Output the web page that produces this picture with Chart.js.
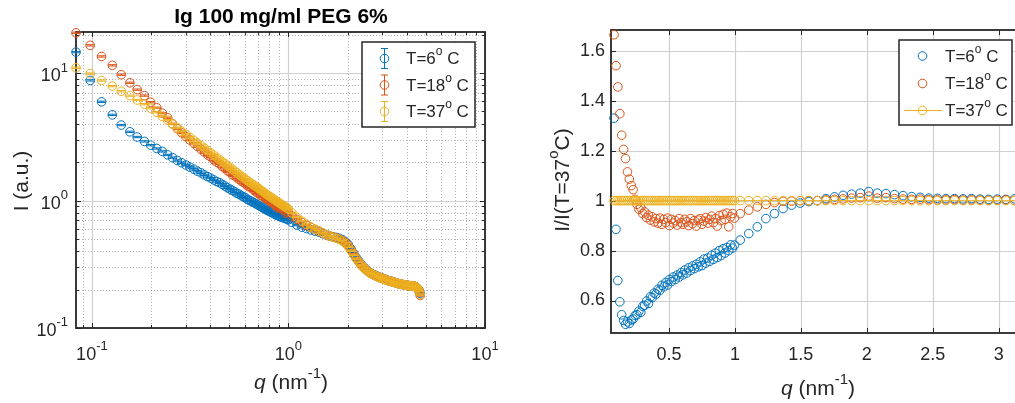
<!DOCTYPE html>
<html>
<head>
<meta charset="utf-8">
<script src="https://cdn.jsdelivr.net/npm/chart.js@4.4.1/dist/chart.umd.min.js"></script>
<style>
  html, body { margin: 0; padding: 0; background: #fff; overflow: hidden; }
  #wrap { position: relative; width: 1015px; height: 403px; overflow: hidden; background: #fff; }
  #left { position: absolute; left: 0; top: 0; }
  #right { position: absolute; left: 510px; top: 0; }
</style>
</head>
<body>
<div id="wrap">
  <canvas id="left" width="510" height="403"></canvas>
  <canvas id="right" width="540" height="403"></canvas>
</div>
<script>
// q (nm^-1): fine steps below 1, coarse steps above
const q = [
  0.083, 0.098, 0.112, 0.127, 0.141, 0.156, 0.170, 0.185, 0.199, 0.214,
  0.228, 0.243, 0.257, 0.272, 0.286, 0.301, 0.315, 0.330, 0.344, 0.359,
  0.373, 0.388, 0.402, 0.417, 0.431, 0.446, 0.460, 0.475, 0.489, 0.504,
  0.518, 0.533, 0.547, 0.562, 0.576, 0.591, 0.605, 0.620, 0.634, 0.649,
  0.663, 0.678, 0.692, 0.707, 0.721, 0.736, 0.750, 0.765, 0.779, 0.794,
  0.808, 0.823, 0.837, 0.852, 0.866, 0.881, 0.895, 0.910, 0.924, 0.939,
  0.953, 0.968, 0.982, 0.997,
  1.040, 1.105, 1.170, 1.235, 1.300, 1.365, 1.430, 1.495, 1.560, 1.625,
  1.690, 1.755, 1.820, 1.885, 1.950, 2.015, 2.080, 2.145, 2.210, 2.275,
  2.340, 2.405, 2.470, 2.535, 2.600, 2.665, 2.730, 2.795, 2.860, 2.925,
  2.990, 3.055, 3.120, 3.185, 3.250, 3.315, 3.380, 3.445, 3.510, 3.575,
  3.640, 3.705, 3.770, 3.835, 3.900, 3.965, 4.030, 4.095, 4.160, 4.225,
  4.290, 4.355, 4.420, 4.485, 4.550, 4.615, 4.680
];

// intensity (a.u.) at 6, 18 and 37 C
const I6 = [
  14.6, 8.76, 5.95, 4.70, 3.91, 3.46, 3.15, 2.91, 2.72, 2.56,
  2.43, 2.28, 2.17, 2.06, 1.98, 1.90, 1.83, 1.76, 1.70, 1.65,
  1.59, 1.54, 1.50, 1.45, 1.41, 1.38, 1.34, 1.30, 1.26, 1.23,
  1.20, 1.17, 1.14, 1.12, 1.09, 1.07, 1.05, 1.02, 1.00, 0.985,
  0.967, 0.949, 0.931, 0.914, 0.897, 0.883, 0.868, 0.852, 0.838, 0.826,
  0.815, 0.804, 0.793, 0.782, 0.770, 0.763, 0.756, 0.749, 0.742, 0.735,
  0.727, 0.723, 0.714, 0.705,
  0.674, 0.642, 0.618, 0.603, 0.588, 0.576, 0.565, 0.549, 0.538, 0.525,
  0.519, 0.513, 0.505, 0.492, 0.474, 0.451, 0.417, 0.386, 0.358, 0.337,
  0.317, 0.302, 0.290, 0.281, 0.272, 0.266, 0.261, 0.257, 0.253, 0.249,
  0.246, 0.243, 0.241, 0.237, 0.235, 0.233, 0.231, 0.228, 0.227, 0.224,
  0.222, 0.221, 0.220, 0.219, 0.218, 0.217, 0.216, 0.215, 0.214, 0.214,
  0.213, 0.213, 0.211, 0.208, 0.204, 0.198, 0.187
];
const I18 = [
  20.7, 16.5, 13.5, 11.5, 9.71, 8.39, 7.41, 6.66, 5.91, 5.34,
  4.85, 4.46, 4.00, 3.66, 3.40, 3.17, 2.99, 2.81, 2.66, 2.52,
  2.40, 2.28, 2.20, 2.09, 2.00, 1.94, 1.85, 1.79, 1.71, 1.67,
  1.59, 1.56, 1.51, 1.46, 1.42, 1.39, 1.35, 1.30, 1.28, 1.26,
  1.21, 1.19, 1.15, 1.14, 1.10, 1.08, 1.07, 1.035, 1.02, 1.01,
  0.979, 0.966, 0.956, 0.921, 0.909, 0.876, 0.893, 0.871, 0.870, 0.849,
  0.851, 0.797, 0.814, 0.808,
  0.758, 0.712, 0.673, 0.640, 0.615, 0.593, 0.574, 0.555, 0.540, 0.525,
  0.517, 0.508, 0.498, 0.485, 0.466, 0.443, 0.409, 0.380, 0.353, 0.332,
  0.314, 0.300, 0.288, 0.279, 0.271, 0.265, 0.260, 0.255, 0.252, 0.248,
  0.246, 0.242, 0.240, 0.236, 0.235, 0.232, 0.231, 0.228, 0.227, 0.224,
  0.223, 0.221, 0.220, 0.219, 0.218, 0.217, 0.216, 0.215, 0.215, 0.214,
  0.213, 0.213, 0.211, 0.207, 0.203, 0.194, 0.180
];
const I37 = [
  11.0, 9.9, 8.75, 7.9, 7.2, 6.65, 6.15, 5.7, 5.3, 4.92,
  4.58, 4.27, 3.98, 3.72, 3.50, 3.30, 3.13, 2.97, 2.83, 2.70,
  2.58, 2.47, 2.37, 2.27, 2.18, 2.10, 2.02, 1.95, 1.88, 1.82,
  1.76, 1.70, 1.65, 1.60, 1.55, 1.51, 1.47, 1.43, 1.39, 1.36,
  1.33, 1.30, 1.27, 1.24, 1.21, 1.185, 1.16, 1.135, 1.11, 1.09,
  1.07, 1.05, 1.03, 1.01, 0.99, 0.975, 0.96, 0.945, 0.93, 0.915,
  0.90, 0.89, 0.875, 0.86,
  0.80, 0.74, 0.69, 0.65, 0.62, 0.595, 0.575, 0.555, 0.540, 0.525,
  0.515, 0.505, 0.495, 0.480, 0.460, 0.435, 0.405, 0.375, 0.350, 0.330,
  0.312, 0.298, 0.287, 0.278, 0.270, 0.264, 0.259, 0.255, 0.251, 0.248,
  0.245, 0.242, 0.239, 0.236, 0.234, 0.232, 0.230, 0.228, 0.226, 0.224,
  0.222, 0.221, 0.220, 0.219, 0.218, 0.217, 0.216, 0.215, 0.214, 0.214,
  0.213, 0.213, 0.211, 0.208, 0.204, 0.196, 0.183
];

// I / I(T=37 C)
const r6 = [
  1.33, 0.885, 0.68, 0.595, 0.543, 0.52, 0.505, 0.515, 0.508, 0.522,
  0.526, 0.54, 0.543, 0.558, 0.553, 0.577, 0.581, 0.598, 0.588, 0.615,
  0.612, 0.63, 0.626, 0.645, 0.641, 0.661, 0.655, 0.672, 0.662, 0.684,
  0.676, 0.694, 0.684, 0.702, 0.694, 0.712, 0.703, 0.722, 0.71, 0.731,
  0.72, 0.738, 0.728, 0.745, 0.735, 0.755, 0.74, 0.766, 0.75, 0.77,
  0.757, 0.781, 0.765, 0.79, 0.772, 0.80, 0.78, 0.807, 0.79, 0.812,
  0.80, 0.823, 0.81, 0.822,
  0.842, 0.868, 0.895, 0.928, 0.948, 0.968, 0.982, 0.99, 0.996, 1.0,
  1.008, 1.015, 1.021, 1.026, 1.03, 1.036, 1.03, 1.028, 1.024, 1.02,
  1.016, 1.013, 1.01, 1.009, 1.008, 1.008, 1.007, 1.008, 1.006, 1.005,
  1.006, 1.005, 1.007, 1.004, 1.005, 1.003, 1.004, 1.002, 1.003, 1.001,
  1.002, 1.001, 1.0, 1.002, 1.001, 1.0, 1.001, 1.0, 1.0, 1.001,
  1.0, 1.0, 0.999, 1.0, 0.998, 1.01, 1.02
];
const r18 = [
  1.664, 1.54, 1.455, 1.348, 1.262, 1.205, 1.168, 1.115, 1.086, 1.06,
  1.044, 1.005, 0.985, 0.965, 0.972, 0.948, 0.955, 0.932, 0.942, 0.922,
  0.935, 0.915, 0.928, 0.91, 0.93, 0.905, 0.925, 0.912, 0.93, 0.90,
  0.925, 0.91, 0.92, 0.902, 0.928, 0.912, 0.905, 0.925, 0.915, 0.90,
  0.928, 0.908, 0.92, 0.898, 0.922, 0.928, 0.905, 0.918, 0.932, 0.91,
  0.925, 0.938, 0.912, 0.928, 0.898, 0.94, 0.92, 0.945, 0.925, 0.95,
  0.895, 0.935, 0.948, 0.93,
  0.948, 0.962, 0.975, 0.985, 0.992, 0.997, 0.998, 1.0, 1.0, 1.0,
  1.003, 1.005, 1.007, 1.01, 1.012, 1.018, 1.01, 1.012, 1.008, 1.006,
  1.005, 1.006, 1.004, 1.003, 1.003, 1.004, 1.002, 1.003, 1.002, 1.001,
  1.002, 1.003, 1.001, 1.002, 1.0, 1.001, 1.002, 1.0, 1.001, 1.0,
  1.002, 1.001, 1.0, 1.001, 1.0, 1.0, 1.001, 1.0, 0.999, 1.0,
  1.001, 1.0, 1.0, 0.999, 0.998, 0.99, 0.985
];
const r37 = [
  1, 1, 1, 1, 1, 1, 1, 1, 1, 1,  1, 1, 1, 1, 1, 1, 1, 1, 1, 1,
  1, 1, 1, 1, 1, 1, 1, 1, 1, 1,  1, 1, 1, 1, 1, 1, 1, 1, 1, 1,
  1, 1, 1, 1, 1, 1, 1, 1, 1, 1,  1, 1, 1, 1, 1, 1, 1, 1, 1, 1,
  1, 1, 1, 1,
  1, 1, 1, 1, 1, 1, 1, 1, 1, 1,  1, 1, 1, 1, 1, 1, 1, 1, 1, 1,
  1, 1, 1, 1, 1, 1, 1, 1, 1, 1,  1, 1, 1, 1, 1, 1, 1, 1, 1, 1,
  1, 1, 1, 1, 1, 1, 1, 1, 1, 1,  1, 1, 1, 1, 1, 1, 1
];

const temps = ['6', '18', '37'];
const relErr = 0.012;

const leftXTicks = [0.1, 1, 10];
const leftYTicks = [0.1, 1, 10];
const rightXTicks = [0.5, 1, 1.5, 2, 2.5, 3];
const rightYTicks = [0.6, 0.8, 1, 1.2, 1.4, 1.6];

const colors = ['#0072BD', '#D95319', '#EDB120'];
const FONT = '"Liberation Sans", Arial, Helvetica, sans-serif';
const INK = '#262626';

function minorLog(lo, hi) {
  const out = [];
  for (let d = -2; d <= 2; d++) {
    for (let m = 2; m <= 9; m++) {
      const v = m * Math.pow(10, d);
      if (v > lo && v < hi) out.push(v);
    }
  }
  return out;
}

function fontFor(p, size) {
  const s = p.sup ? Math.round(size * 0.7) : size;
  return (p.italic ? 'italic ' : '') + (p.bold ? 'bold ' : '') + s + 'px ' + FONT;
}

function richWidth(ctx, parts, size) {
  let w = 0;
  for (const p of parts) {
    ctx.font = fontFor(p, size);
    w += ctx.measureText(p.t).width;
  }
  return w;
}

// text with superscripts / italics on one line, y is the middle of the base text
function drawRich(ctx, parts, x, y, size, align) {
  const w = richWidth(ctx, parts, size);
  let cx = align === 'center' ? x - w / 2 : align === 'right' ? x - w : x;
  ctx.textAlign = 'left';
  ctx.textBaseline = 'middle';
  for (const p of parts) {
    ctx.font = fontFor(p, size);
    ctx.fillText(p.t, cx, p.sup ? y - size * 0.45 : y);
    cx += ctx.measureText(p.t).width;
  }
}

function seg(ctx, x1, y1, x2, y2) {
  ctx.beginPath();
  ctx.moveTo(x1, y1);
  ctx.lineTo(x2, y2);
  ctx.stroke();
}

function circle(ctx, x, y, r) {
  ctx.beginPath();
  ctx.arc(x, y, r, 0, Math.PI * 2);
  ctx.stroke();
}

function errorIcon(ctx, x, y, half, cap) {
  seg(ctx, x, y - half, x, y + half);
  seg(ctx, x - cap, y - half, x + cap, y - half);
  seg(ctx, x - cap, y + half, x + cap, y + half);
}

// grid, box, inward ticks, labels and legend drawn the way MATLAB axes look
function axesDecor(cfg) {
  return {
    id: 'axesDecor',
    beforeDatasetsDraw(chart) {
      const { ctx, chartArea: a, scales: { x, y } } = chart;
      const px = v => Math.round(x.getPixelForValue(v)) + 0.5;
      const py = v => Math.round(y.getPixelForValue(v)) + 0.5;
      ctx.save();
      ctx.lineWidth = 1;
      ctx.strokeStyle = '#b4b4b4';
      ctx.setLineDash([1, 2]);
      for (const v of cfg.xMinor) seg(ctx, px(v), a.top, px(v), a.bottom);
      for (const v of cfg.yMinor) seg(ctx, a.left, py(v), a.right, py(v));
      ctx.setLineDash([]);
      ctx.strokeStyle = '#d0d0d0';
      ctx.lineWidth = 1.2;
      for (const v of cfg.xTicks) seg(ctx, px(v), a.top, px(v), a.bottom);
      for (const v of cfg.yTicks) seg(ctx, a.left, py(v), a.right, py(v));

      ctx.strokeStyle = INK;
      ctx.lineWidth = 1;
      const L = 5, l = 3;
      for (const v of cfg.xTicks) { seg(ctx, px(v), a.bottom, px(v), a.bottom - L); seg(ctx, px(v), a.top, px(v), a.top + L); }
      for (const v of cfg.yTicks) { seg(ctx, a.left, py(v), a.left + L, py(v)); seg(ctx, a.right, py(v), a.right - L, py(v)); }
      for (const v of cfg.xMinor) { seg(ctx, px(v), a.bottom, px(v), a.bottom - l); seg(ctx, px(v), a.top, px(v), a.top + l); }
      for (const v of cfg.yMinor) { seg(ctx, a.left, py(v), a.left + l, py(v)); seg(ctx, a.right, py(v), a.right - l, py(v)); }

      ctx.lineWidth = 1.8;
      ctx.strokeRect(a.left, a.top, a.right - a.left, a.bottom - a.top);
      ctx.restore();
    },
    afterDatasetDraw(chart, args) {
      if (!cfg.errorBars) return;
      const { ctx, scales: { y } } = chart;
      const ds = chart.data.datasets[args.index];
      const meta = args.meta;
      ctx.save();
      ctx.strokeStyle = ds.borderColor;
      ctx.lineWidth = 1;
      meta.data.forEach((pt, i) => {
        const v = ds.data[i].y;
        const yHi = y.getPixelForValue(v * (1 + relErr));
        const yLo = y.getPixelForValue(v * (1 - relErr));
        seg(ctx, pt.x, yHi, pt.x, yLo);
        seg(ctx, pt.x - 4.3, yHi, pt.x + 4.3, yHi);
        seg(ctx, pt.x - 4.3, yLo, pt.x + 4.3, yLo);
      });
      ctx.restore();
    },
    afterDraw(chart) {
      const { ctx, chartArea: a, scales: { x, y } } = chart;
      const ox = cfg.ox;
      ctx.save();
      ctx.fillStyle = INK;

      // tick labels
      for (const v of cfg.xTicks) {
        const parts = cfg.log ? [{ t: '10' }, { t: String(Math.round(Math.log10(v))), sup: true }] : [{ t: String(v) }];
        drawRich(ctx, parts, x.getPixelForValue(v), cfg.xLabelY, 18, 'center');
      }
      for (const v of cfg.yTicks) {
        const parts = cfg.log ? [{ t: '10' }, { t: String(Math.round(Math.log10(v))), sup: true }] : [{ t: String(v) }];
        drawRich(ctx, parts, a.left - cfg.yLabelGap, y.getPixelForValue(v) + (cfg.log ? 3 : 0), 18, 'right');
      }

      // axis titles
      drawRich(ctx, cfg.xTitle.parts, cfg.xTitle.x - ox, cfg.xTitle.y, 21, 'center');
      ctx.save();
      ctx.translate(cfg.yTitle.x - ox, cfg.yTitle.y);
      ctx.rotate(-Math.PI / 2);
      drawRich(ctx, cfg.yTitle.parts, 0, 0, 21, 'center');
      ctx.restore();

      if (cfg.title) {
        ctx.fillStyle = '#000';
        drawRich(ctx, [{ t: cfg.title.text, bold: true }], cfg.title.x - ox, cfg.title.y, 21, 'center');
      }

      // legend
      const lg = cfg.legend;
      ctx.fillStyle = '#fff';
      ctx.fillRect(lg.x - ox, lg.y, lg.w, lg.h);
      ctx.strokeStyle = INK;
      ctx.lineWidth = 1.5;
      ctx.strokeRect(lg.x - ox, lg.y, lg.w, lg.h);
      temps.forEach((t, i) => {
        const cy = lg.rows[i];
        const ix = lg.iconX - ox;
        ctx.strokeStyle = colors[i];
        ctx.lineWidth = 1;
        if (cfg.errorBars) errorIcon(ctx, ix, cy, 10, 3.5);
        if (lg.lineRow === i) seg(ctx, lg.lineX0 - ox, cy, lg.lineX1 - ox, cy);
        circle(ctx, ix, cy, 4.3);
        ctx.fillStyle = INK;
        drawRich(ctx, [{ t: 'T=' + t }, { t: 'o', sup: true }, { t: ' C' }], lg.textX - ox, cy + 1, 17, 'left');
      });
      ctx.restore();
    }
  };
}

function pts(ys) {
  return q.map((v, i) => ({ x: v, y: ys[i] }));
}

function dataset(i, ys, extra) {
  return Object.assign({
    label: 'T=' + temps[i],
    data: pts(ys),
    borderColor: colors[i],
    pointBorderColor: colors[i],
    pointBackgroundColor: 'rgba(0,0,0,0)',
    pointRadius: 4.3,
    pointHoverRadius: 4.3,
    pointBorderWidth: 1,
    showLine: false,
    clip: false,
    order: 3 - i
  }, extra || {});
}

function baseOptions(pad, yWidth, xHeight, xScale, yScale) {
  return {
    responsive: false,
    animation: false,
    devicePixelRatio: 1,
    events: [],
    layout: { padding: pad },
    plugins: { legend: { display: false }, tooltip: { enabled: false } },
    scales: {
      x: Object.assign({
        ticks: { display: false },
        grid: { display: false },
        border: { display: false },
        afterFit: s => { s.height = xHeight; }
      }, xScale),
      y: Object.assign({
        ticks: { display: false },
        grid: { display: false },
        border: { display: false },
        afterFit: s => { s.width = yWidth; }
      }, yScale)
    }
  };
}

// left panel: log-log intensities with error bars
new Chart(document.getElementById('left'), {
  type: 'scatter',
  data: { datasets: [dataset(0, I6), dataset(1, I18), dataset(2, I37)] },
  options: baseOptions({ top: 32, right: 25, left: 0, bottom: 0 }, 76, 75,
    { type: 'logarithmic', min: 0.083, max: 10 },
    { type: 'logarithmic', min: 0.1, max: 21 }),
  plugins: [axesDecor({
    ox: 0,
    log: true,
    errorBars: true,
    xTicks: leftXTicks,
    yTicks: leftYTicks,
    xMinor: minorLog(0.083, 10),
    yMinor: minorLog(0.1, 21),
    xLabelY: 355,
    yLabelGap: 8,
    title: { text: 'Ig 100 mg/ml PEG 6%', x: 281, y: 17 },
    xTitle: { parts: [{ t: 'q', italic: true }, { t: ' (nm' }, { t: '-1', sup: true }, { t: ')' }], x: 291, y: 383 },
    yTitle: { parts: [{ t: 'I (a.u.)' }], x: 22, y: 181 },
    legend: { x: 362, y: 42, w: 113, h: 85, rows: [58.5, 85, 111.5], iconX: 384.5, textX: 406, lineRow: -1 }
  })]
});

// right panel: ratio to the 37 C curve
new Chart(document.getElementById('right'), {
  type: 'scatter',
  data: {
    datasets: [
      dataset(0, r6),
      dataset(1, r18),
      dataset(2, r37, { showLine: true, borderWidth: 1 })
    ]
  },
  options: baseOptions({ top: 30, right: 25, left: 0, bottom: 0 }, 101, 70,
    { type: 'linear', min: 0.06, max: 3.2 },
    { type: 'linear', min: 0.47, max: 1.683 }),
  plugins: [axesDecor({
    ox: 510,
    log: false,
    errorBars: false,
    xTicks: rightXTicks,
    yTicks: rightYTicks,
    xMinor: [],
    yMinor: [],
    xLabelY: 355,
    yLabelGap: 6,
    xTitle: { parts: [{ t: 'q', italic: true }, { t: ' (nm' }, { t: '-1', sup: true }, { t: ')' }], x: 818, y: 389 },
    yTitle: { parts: [{ t: 'I/I(T=37' }, { t: 'o', sup: true }, { t: 'C)' }], x: 563, y: 180 },
    legend: { x: 899, y: 40, w: 113, h: 85, rows: [56, 83.5, 110.5], iconX: 922.5, textX: 945, lineRow: 2, lineX0: 904, lineX1: 942 }
  })]
});
</script>
</body>
</html>
